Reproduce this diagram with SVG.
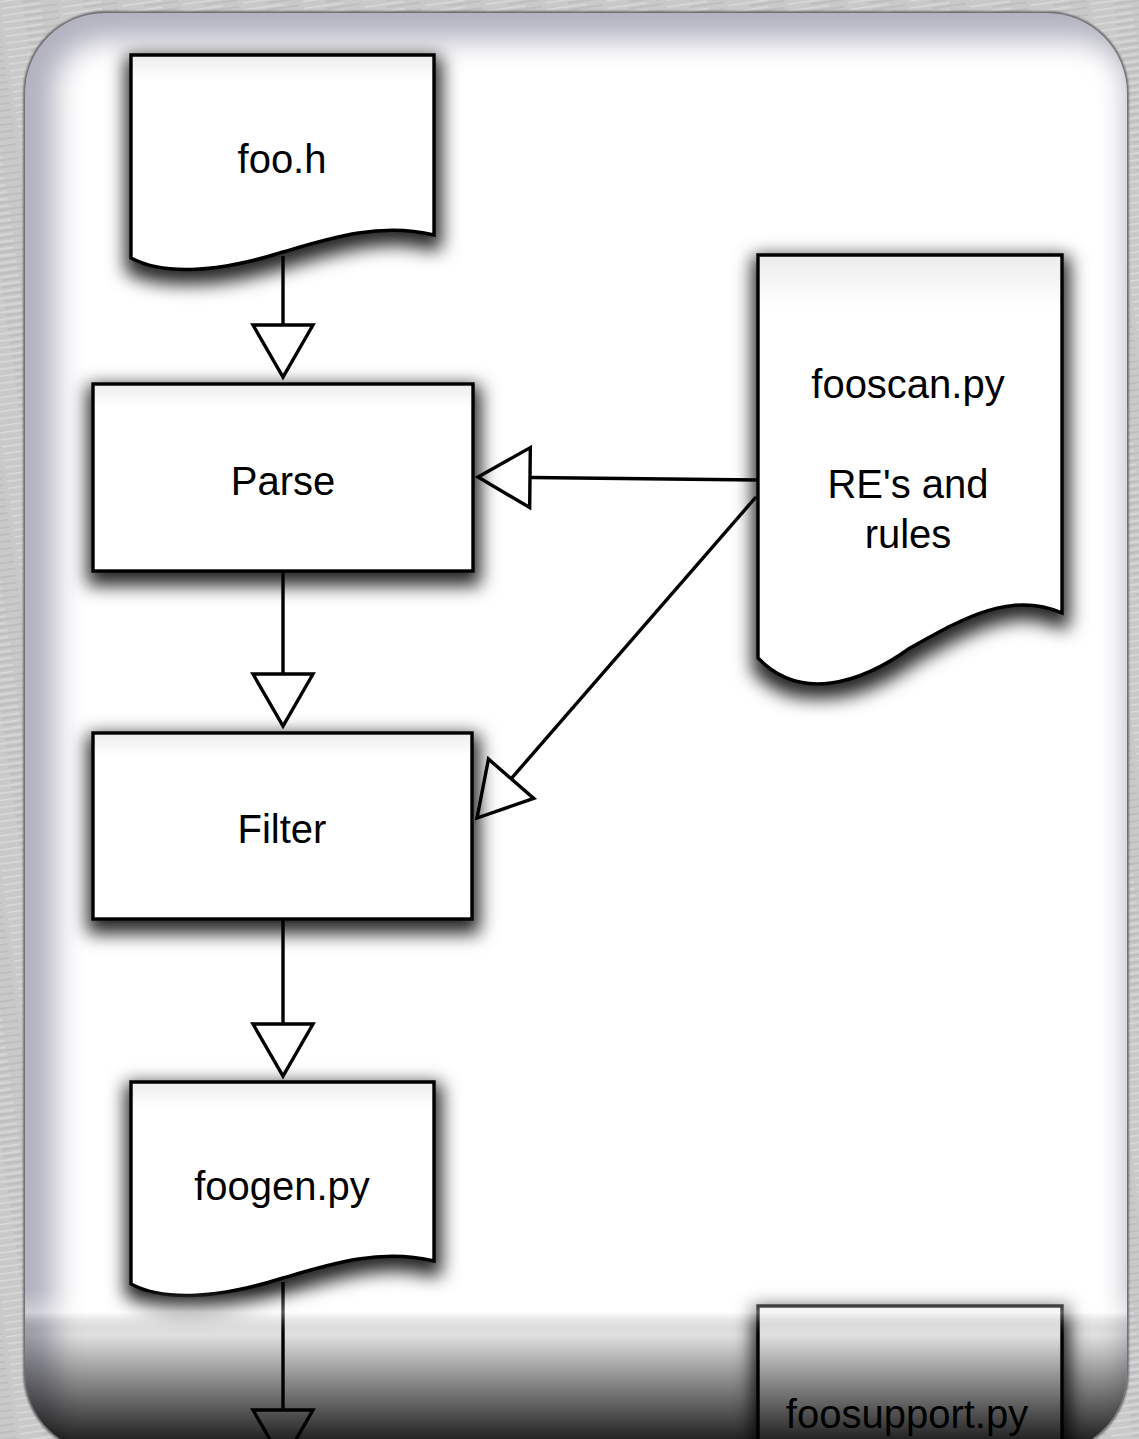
<svg xmlns="http://www.w3.org/2000/svg" width="1139" height="1439" viewBox="0 0 1139 1439">
  <defs>
    <style>
      .box { fill: url(#boxFill); stroke: #000; stroke-width: 3.4; stroke-linejoin: miter; }
      .lbl { font-family: "Liberation Sans", Arial, Helvetica, sans-serif; font-size: 40px; fill: #000; text-anchor: middle; }
      .conn { fill: none; stroke: #000; stroke-width: 3.4; marker-end: url(#tri); }
    </style>
    <pattern id="metal" width="60" height="7" patternUnits="userSpaceOnUse" patternTransform="rotate(-8)">
      <rect width="60" height="7" fill="#c9c9c9"/>
      <rect y="1" width="40" height="1.5" fill="#dadada"/>
      <rect x="22" y="4.5" width="34" height="1" fill="#b4b4b4"/>
    </pattern>
    <linearGradient id="boxFill" x1="0" y1="0" x2="0" y2="1">
      <stop offset="0" stop-color="#ececec"/>
      <stop offset="0.12" stop-color="#ffffff"/>
      <stop offset="1" stop-color="#ffffff"/>
    </linearGradient>
    <linearGradient id="darkOverlay" gradientUnits="userSpaceOnUse" x1="0" y1="1290" x2="0" y2="1439">
      <stop offset="0" stop-color="#ffffff" stop-opacity="0"/>
      <stop offset="0.15" stop-color="#ffffff" stop-opacity="0.35"/>
      <stop offset="0.3" stop-color="#000000" stop-opacity="0.12"/>
      <stop offset="0.6" stop-color="#000000" stop-opacity="0.45"/>
      <stop offset="1" stop-color="#000000" stop-opacity="0.86"/>
    </linearGradient>
    <clipPath id="panelClip">
      <rect x="25" y="13" width="1102" height="1440" rx="80" ry="80"/>
    </clipPath>
    <filter id="soft" x="-10%" y="-10%" width="120%" height="120%">
      <feGaussianBlur stdDeviation="14"/>
    </filter>
    <filter id="rimBlur" x="-5%" y="-5%" width="110%" height="110%">
      <feGaussianBlur stdDeviation="1.2"/>
    </filter>
    <filter id="shadow" x="-25%" y="-25%" width="150%" height="160%">
      <feMorphology in="SourceAlpha" operator="dilate" radius="5" result="d"/>
      <feGaussianBlur in="d" stdDeviation="9" result="b"/>
      <feOffset in="b" dx="1" dy="8" result="o"/>
      <feFlood flood-color="#000" flood-opacity="0.85"/>
      <feComposite in2="o" operator="in" result="s"/>
      <feMerge>
        <feMergeNode in="s"/>
        <feMergeNode in="SourceGraphic"/>
      </feMerge>
    </filter>
    <marker id="tri" markerUnits="userSpaceOnUse" viewBox="0 0 60 66" markerWidth="60" markerHeight="66" refX="55" refY="33" orient="auto" overflow="visible">
      <path d="M3,3 L55,33 L3,63 Z" fill="#fff" stroke="#000" stroke-width="3.4"/>
    </marker>
  </defs>

  <!-- background -->
  <rect width="1139" height="1439" fill="url(#metal)"/>

  <!-- panel -->
  <g id="panel">
    <rect x="25" y="13" width="1102" height="1440" rx="80" ry="80" fill="none" stroke="#555" stroke-width="3" filter="url(#rimBlur)"/>
    <rect x="25" y="13" width="1102" height="1440" rx="80" ry="80" fill="#b2b2c0"/>
    <g clip-path="url(#panelClip)">
      <rect x="55" y="40" width="1072" height="1480" rx="50" ry="50" fill="#ffffff" filter="url(#soft)"/>
    </g>
  </g>

  <!-- connectors -->
  <g id="connectors">
    <path class="conn" d="M283,256 V377"/>
    <path class="conn" d="M283,571 V726"/>
    <path class="conn" d="M283,919 V1076"/>
    <path class="conn" d="M283,1282 V1462"/>
    <path class="conn" d="M758,480 L478,477"/>
    <path class="conn" d="M756,497 L477,818"/>
  </g>

  <!-- nodes -->
  <g id="node-fooh">
    <path class="box" filter="url(#shadow)" d="M131,55 H434 V235 C380,222 330,238 283,252 C220,272 165,276 131,258 Z"/>
    <text class="lbl" x="282" y="173">foo.h</text>
  </g>

  <g id="node-parse">
    <rect class="box" filter="url(#shadow)" x="93" y="384" width="380" height="187"/>
    <text class="lbl" x="283" y="495">Parse</text>
  </g>

  <g id="node-filter">
    <rect class="box" filter="url(#shadow)" x="93" y="733" width="379" height="186"/>
    <text class="lbl" x="282" y="843">Filter</text>
  </g>

  <g id="node-foogen">
    <path class="box" filter="url(#shadow)" d="M131,1082 H434 V1261 C380,1248 330,1264 283,1278 C220,1298 165,1302 131,1284 Z"/>
    <text class="lbl" x="282" y="1200">foogen.py</text>
  </g>

  <g id="node-fooscan">
    <path class="box" filter="url(#shadow)" d="M758,255 H1062 V613 C1010,590 960,620 910,648 C860,684 800,702 758,658 Z"/>
    <text class="lbl" x="908" y="398">fooscan.py</text>
    <text class="lbl" x="908" y="498">RE's and</text>
    <text class="lbl" x="908" y="548">rules</text>
  </g>

  <g id="node-foosupport">
    <rect class="box" filter="url(#shadow)" x="758" y="1306" width="304" height="200"/>
    <text class="lbl" x="907" y="1428">foosupport.py</text>
  </g>

  <!-- bottom glass shading -->
  <g clip-path="url(#panelClip)">
    <rect x="0" y="1290" width="1139" height="160" fill="url(#darkOverlay)"/>
  </g>
</svg>
